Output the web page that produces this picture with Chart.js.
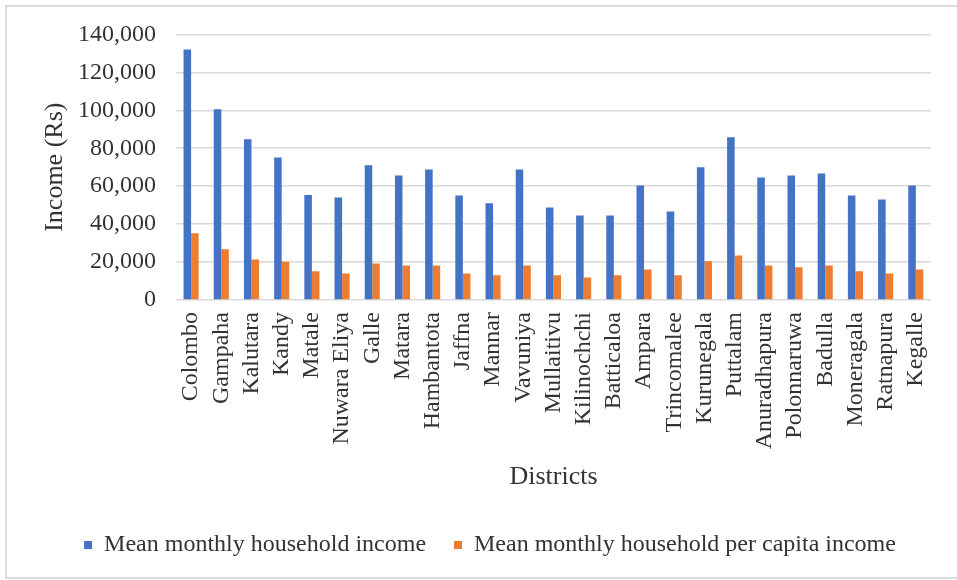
<!DOCTYPE html>
<html><head><meta charset="utf-8">
<script src="https://cdn.jsdelivr.net/npm/chart.js@4/dist/chart.umd.min.js"></script>
<style>
html,body{margin:0;padding:0;background:#fff;overflow:hidden;}
#wrap{position:relative;width:957px;height:580px;}
#frame{position:absolute;left:5px;top:5px;width:1000px;height:574px;border:2px solid #dcdcdc;box-sizing:border-box;pointer-events:none;}
canvas{display:block;}
</style></head><body>
<div id="wrap"><canvas id="c" width="957" height="580"></canvas><div id="frame"></div></div>
<script>
const districts = ["Colombo","Gampaha","Kalutara","Kandy","Matale","Nuwara Eliya","Galle","Matara","Hambantota","Jaffna","Mannar","Vavuniya","Mullaitivu","Kilinochchi","Batticaloa","Ampara","Trincomalee","Kurunegala","Puttalam","Anuradhapura","Polonnaruwa","Badulla","Moneragala","Ratnapura","Kegalle"];
const householdIncome = [132000,100500,84700,75100,55300,54000,71000,65600,68800,55100,51000,68800,48800,44600,44600,60300,46700,70000,85800,64600,65600,66700,55100,53000,60300];
const perCapitaIncome = [35200,26700,21400,20200,15100,14000,19300,18200,18200,14000,13000,18200,13000,11900,13000,16100,13000,20400,23500,18200,17200,18200,15100,14000,16100];
const seriesNames = ["Mean monthly household income","Mean monthly household per capita income"];
const yMin = 0, yMax = 140000, yStep = 20000;
const xTitle = "Districts", yTitle = "Income (Rs)";

const serif = "'Liberation Serif','Times New Roman',serif";
const textColor = "#333333";

const legendShift = {
  id: 'legendShift',
  afterLayout(chart) {
    if (chart.legend) { chart.legend.left += 17; chart.legend.right += 17; }
  }
};

new Chart(document.getElementById('c'), {
  type: 'bar',
  data: {
    labels: districts,
    datasets: [
      {label: seriesNames[0], data: householdIncome, backgroundColor: '#4472C4', categoryPercentage: 0.5, barPercentage: 1.0},
      {label: seriesNames[1], data: perCapitaIncome, backgroundColor: '#ED7D31', categoryPercentage: 0.5, barPercentage: 1.0}
    ]
  },
  plugins: [legendShift],
  options: {
    responsive: false,
    animation: false,
    devicePixelRatio: 1,
    layout: {padding: {left: 8, right: 19, top: 34, bottom: 13}},
    plugins: {
      tooltip: {enabled: false},
      legend: {
        position: 'bottom',
        labels: {
          font: {family: serif, size: 24},
          color: textColor,
          boxWidth: 8, boxHeight: 8,
          padding: 28
        }
      }
    },
    scales: {
      x: {
        grid: {display: false, drawTicks: false},
        border: {display: false},
        ticks: {
          minRotation: 90, maxRotation: 90, autoSkip: false, padding: 12,
          font: {family: serif, size: 24}, color: textColor
        },
        title: {display: true, text: xTitle, font: {family: serif, size: 26}, color: textColor, padding: {top: 0, bottom: 12}},
        afterFit: s => { s.height = 205; }
      },
      y: {
        min: yMin, max: yMax,
        grid: {color: '#d9d9d9', lineWidth: 1.5, drawTicks: false},
        border: {display: false},
        ticks: {
          stepSize: yStep, padding: 20,
          font: {family: serif, size: 24}, color: textColor,
          callback: v => Number(v).toLocaleString('en-US')
        },
        title: {display: true, text: yTitle, font: {family: serif, size: 26}, color: textColor, padding: {top: 32, bottom: 0}},
        afterFit: s => { s.width = 168; }
      }
    }
  }
});
</script>
</body></html>
